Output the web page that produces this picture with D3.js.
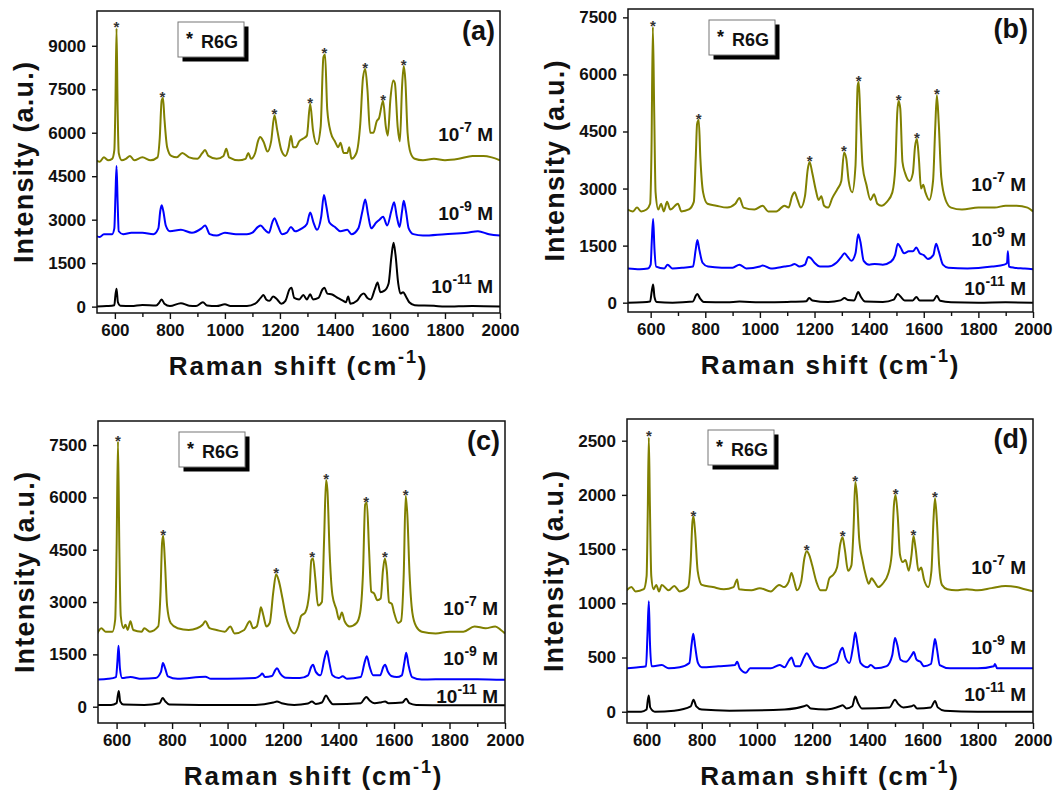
<!DOCTYPE html>
<html>
<head>
<meta charset="utf-8">
<style>
  body { margin: 0; background: #fff; }
  svg text { font-family: "Liberation Sans", Arial, sans-serif; font-weight: bold; fill: #111; }
</style>
<script src="https://cdnjs.cloudflare.com/ajax/libs/d3/7.8.5/d3.min.js"></script>
</head>
<body>
<svg id="chart"></svg>
<script>
// ---- data (Raman shift cm-1, intensity a.u.) ----
var xTicks = [600, 800, 1000, 1200, 1400, 1600, 1800, 2000];
var xMinorTicks = [700, 900, 1100, 1300, 1500, 1700, 1900];
var yTicksA = [0, 1500, 3000, 4500, 6000, 7500, 9000];
var yTicksB = [0, 1500, 3000, 4500, 6000, 7500];
var yTicksC = [0, 1500, 3000, 4500, 6000, 7500];
var yTicksD = [0, 500, 1000, 1500, 2000, 2500];
var concLabels = ['-7', '-9', '-11'];
var colors = ['#808000', '#0000ff', '#000000'];

// panel (a)
var a7 = [[530,5050],[545,5000],[560,5150],[575,5050],[590,5100],[598,5400],[602,7000],[606,9600],[610,6800],[614,5300],[625,5050],[640,5100],[655,5200],[670,5050],[700,5150],[730,5050],[755,5150],[763,5800],[770,7100],[775,7200],[780,6500],[790,5500],[805,5200],[825,5150],[845,5300],[870,5150],[900,5100],[918,5300],[928,5400],[940,5200],[970,5100],[995,5200],[1005,5450],[1015,5150],[1050,5050],[1075,5100],[1085,5300],[1095,5100],[1110,5300],[1120,5700],[1128,5850],[1140,5700],[1155,5350],[1168,5700],[1180,6600],[1190,6100],[1205,5400],[1220,5200],[1232,5500],[1240,5900],[1248,5500],[1258,5500],[1270,5700],[1285,5800],[1298,5900],[1310,7000],[1320,6100],[1335,5600],[1348,6200],[1358,8600],[1364,8700],[1372,6800],[1385,6000],[1400,5700],[1412,5500],[1420,5650],[1432,5300],[1445,5300],[1452,5500],[1460,5100],[1478,5300],[1492,6300],[1502,7900],[1510,8200],[1518,7500],[1528,6000],[1540,6000],[1552,6400],[1560,6500],[1575,7100],[1585,6200],[1592,5900],[1602,7200],[1612,7800],[1618,7700],[1628,6200],[1636,5700],[1644,7600],[1650,8300],[1656,7800],[1664,6000],[1675,5300],[1690,5100],[1720,5050],[1760,5100],[1800,5050],[1850,5100],[1900,5200],[1940,5200],[1970,5150],[2000,5050]];
var a9 = [[530,2450],[545,2400],[560,2500],[590,2500],[598,2700],[602,3800],[606,4850],[610,3600],[614,2600],[630,2500],[660,2550],[700,2550],[740,2500],[758,2700],[765,3300],[770,3500],[776,3300],[785,2800],[800,2600],[840,2650],[880,2550],[915,2700],[928,2800],[945,2500],[970,2450],[1000,2550],[1040,2500],[1080,2500],[1100,2550],[1120,2750],[1130,2800],[1145,2650],[1160,2550],[1172,2900],[1180,3050],[1192,2800],[1208,2500],[1225,2550],[1240,2750],[1255,2600],[1280,2700],[1298,2850],[1310,3250],[1322,2900],[1335,2650],[1350,3100],[1360,3850],[1368,3500],[1380,2900],[1400,2750],[1420,2600],[1445,2650],[1460,2500],[1485,2700],[1500,3300],[1510,3700],[1520,3200],[1532,2700],[1550,2900],[1562,3000],[1575,3100],[1590,2800],[1605,3300],[1615,3600],[1625,3100],[1635,2750],[1644,3300],[1650,3650],[1658,3300],[1668,2700],[1685,2500],[1720,2450],[1800,2500],[1880,2550],[1920,2600],[1960,2500],[2000,2450]];
var a11 = [[530,0],[570,20],[598,50],[602,400],[606,620],[611,150],[620,30],[660,20],[700,60],[750,40],[762,150],[770,250],[780,100],[800,20],[840,120],[870,30],[895,20],[920,150],[935,40],[970,20],[1000,80],[1020,20],[1080,20],[1110,100],[1130,300],[1140,400],[1150,250],[1162,200],[1175,350],[1190,250],[1205,100],[1220,200],[1235,600],[1242,650],[1252,300],[1270,250],[1285,400],[1298,250],[1310,430],[1320,250],[1340,300],[1355,600],[1362,650],[1372,450],[1390,420],[1410,300],[1430,200],[1440,150],[1448,350],[1456,100],[1480,200],[1495,400],[1505,450],[1518,300],[1530,250],[1545,600],[1555,830],[1565,500],[1580,550],[1595,800],[1605,1700],[1613,2200],[1620,1800],[1630,800],[1638,450],[1648,500],[1658,350],[1670,150],[1690,50],[1760,30],[1800,0],[1900,20],[2000,0]];
var starsA = [[606,9600],[773,7200],[1180,6600],[1310,7000],[1362,8700],[1510,8200],[1575,7100],[1650,8300]];
var labelYA = [5720, 3000, 480];

// panel (b)
var b7 = [[515,2450],[535,2400],[550,2500],[565,2400],[585,2450],[598,2600],[603,4000],[608,7250],[613,5000],[618,2900],[628,2450],[638,2600],[648,2400],[660,2650],[672,2450],[700,2600],[712,2400],[740,2450],[758,2650],[765,3800],[770,4700],[776,4800],[782,3800],[792,2900],[808,2600],[840,2550],[880,2500],[910,2600],[925,2750],[940,2500],[980,2450],[1010,2550],[1030,2400],[1060,2400],[1090,2550],[1105,2500],[1118,2800],[1127,2900],[1138,2700],[1150,2500],[1165,2800],[1175,3500],[1182,3700],[1192,3400],[1205,2950],[1215,2700],[1225,2800],[1235,2550],[1250,2500],[1265,2750],[1285,3000],[1298,3200],[1308,3950],[1316,3800],[1325,3200],[1338,2900],[1350,3600],[1358,5700],[1362,5800],[1368,4800],[1376,3600],[1390,3100],[1405,2700],[1418,2850],[1430,2600],[1445,2550],[1465,2650],[1485,2900],[1496,3600],[1503,5000],[1508,5300],[1514,5100],[1522,3700],[1532,3400],[1548,3200],[1560,3400],[1568,4100],[1575,4300],[1582,3800],[1590,3000],[1598,3100],[1606,2900],[1620,2700],[1634,3200],[1642,4600],[1648,5450],[1655,4700],[1664,3300],[1680,2700],[1700,2500],[1740,2450],[1800,2500],[1860,2500],[1900,2550],[1940,2550],[1980,2500],[2000,2400]];
var b9 = [[515,900],[560,880],[590,900],[600,1000],[604,1600],[609,2200],[614,1400],[620,950],[650,900],[662,1000],[680,900],[720,920],[755,950],[765,1400],[771,1650],[778,1400],[790,1050],[810,950],[860,920],[900,920],[925,1000],[950,900],[1000,950],[1010,980],[1040,900],[1090,950],[1115,980],[1127,1020],[1145,950],[1165,1000],[1177,1200],[1185,1180],[1200,1050],[1220,950],[1250,950],[1280,1050],[1298,1200],[1310,1300],[1322,1200],[1335,1100],[1350,1300],[1360,1800],[1368,1600],[1380,1100],[1400,1000],[1420,1020],[1450,1000],[1480,1080],[1495,1250],[1505,1550],[1515,1450],[1528,1300],[1545,1350],[1560,1350],[1573,1450],[1585,1300],[1600,1250],[1615,1150],[1635,1250],[1645,1550],[1655,1350],[1670,1000],[1690,920],[1760,900],[1850,950],[1895,1000],[1905,1050],[1908,1350],[1912,950],[1930,920],[1970,900],[2000,880]];
var b11 = [[515,0],[570,10],[598,30],[604,300],[609,480],[614,150],[622,20],[680,0],[755,30],[765,180],[771,230],[780,120],[795,20],[880,10],[925,30],[1000,10],[1100,20],[1170,40],[1180,120],[1192,60],[1250,20],[1295,60],[1310,120],[1322,70],[1345,60],[1360,280],[1370,150],[1385,30],[1450,20],[1490,80],[1505,230],[1515,160],[1530,60],[1560,60],[1573,150],[1585,60],[1635,60],[1648,180],[1660,50],[1700,10],[1800,0],[1900,10],[2000,0]];
var starsB = [[608,7250],[776,4800],[1182,3700],[1308,3950],[1362,5800],[1508,5300],[1575,4300],[1648,5450]];
var labelYB = [2943, 1490, 202];

// panel (c)
var c7 = [[530,2100],[545,2250],[560,2150],[585,2150],[595,2500],[600,4500],[605,7600],[610,4500],[615,2600],[625,2250],[632,2350],[640,2200],[650,2450],[660,2200],[690,2150],[700,2250],[720,2150],[750,2300],[758,3200],[764,4700],[768,4900],[774,4200],[782,2900],[795,2400],[820,2250],[860,2200],[890,2250],[910,2350],[920,2450],[935,2250],[960,2200],[990,2150],[1010,2300],[1025,2100],[1060,2200],[1080,2450],[1092,2250],[1105,2300],[1115,2650],[1120,2850],[1128,2650],[1140,2300],[1152,2400],[1165,3300],[1175,3800],[1185,3600],[1198,3100],[1210,2600],[1222,2300],[1240,2100],[1255,2300],[1265,2600],[1280,2700],[1295,3300],[1302,4200],[1308,4250],[1316,3700],[1326,2900],[1340,3000],[1348,4800],[1355,6500],[1360,6200],[1368,4400],[1378,3200],[1392,2800],[1402,2500],[1412,2700],[1422,2450],[1440,2300],[1465,2400],[1478,2700],[1488,3800],[1496,5800],[1502,5850],[1510,4500],[1518,3300],[1528,3250],[1540,3050],[1552,3100],[1560,3900],[1567,4250],[1574,3900],[1582,3000],[1592,2950],[1600,2700],[1615,2400],[1625,2450],[1635,3800],[1642,6050],[1648,5500],[1656,3800],[1666,2700],[1680,2300],[1700,2150],[1750,2100],[1800,2150],[1850,2150],[1890,2300],[1930,2250],[1965,2300],[1985,2200],[2000,2100]];
var c9 = [[530,780],[570,800],[598,850],[603,1300],[607,1750],[612,1100],[620,820],[650,850],[690,800],[740,820],[760,1000],[767,1250],[775,1100],[785,870],[820,800],[920,860],[940,800],[1000,800],[1100,820],[1118,900],[1125,950],[1135,850],[1160,880],[1172,1050],[1178,1100],[1190,950],[1210,830],[1260,820],[1290,900],[1302,1150],[1308,1200],[1318,1000],[1335,900],[1350,1400],[1358,1600],[1366,1300],[1378,900],[1400,820],[1415,870],[1430,800],[1480,850],[1495,1300],[1502,1450],[1512,1150],[1525,900],[1550,900],[1562,1150],[1568,1200],[1578,1000],[1590,880],[1610,850],[1628,900],[1638,1300],[1644,1550],[1652,1200],[1665,850],[1700,780],[1800,790],[1900,790],[2000,770]];
var c11 = [[530,50],[580,50],[600,100],[604,300],[608,450],[613,150],[625,60],[700,50],[755,100],[766,250],[776,150],[790,60],[900,50],[1100,50],[1165,120],[1178,150],[1195,100],[1240,50],[1290,90],[1304,150],[1318,80],[1340,120],[1355,320],[1365,200],[1380,70],[1480,100],[1500,280],[1512,180],[1530,100],[1555,130],[1568,150],[1580,100],[1630,120],[1644,230],[1655,100],[1680,50],[1800,40],[2000,40]];
var starsC = [[605,7600],[768,4900],[1175,3800],[1305,4250],[1355,6500],[1500,5850],[1567,4250],[1642,6050]];
var labelYC = [2628, 1195, 97];

// panel (d)
var d7 = [[528,1120],[545,1150],[560,1110],[590,1130],[600,1250],[604,1800],[608,2530],[612,1900],[617,1250],[625,1130],[635,1170],[645,1110],[655,1170],[680,1120],[700,1160],[720,1110],[750,1150],[760,1400],[766,1750],[770,1800],[776,1650],[785,1300],[800,1170],[840,1150],[880,1130],[915,1150],[928,1220],[935,1130],[980,1120],[1010,1140],[1050,1110],[1080,1170],[1098,1150],[1115,1200],[1125,1280],[1135,1200],[1145,1120],[1160,1200],[1172,1420],[1180,1480],[1190,1440],[1200,1350],[1215,1200],[1230,1120],[1250,1120],[1262,1230],[1275,1260],[1290,1330],[1302,1550],[1310,1610],[1318,1500],[1330,1300],[1342,1350],[1350,1700],[1356,2120],[1362,2000],[1370,1600],[1382,1400],[1395,1250],[1405,1180],[1415,1230],[1425,1200],[1440,1150],[1455,1180],[1475,1270],[1488,1450],[1496,1900],[1502,2000],[1510,1800],[1518,1450],[1528,1380],[1538,1400],[1550,1300],[1560,1450],[1567,1620],[1575,1500],[1585,1300],[1595,1330],[1605,1220],[1620,1150],[1632,1300],[1640,1800],[1645,1970],[1652,1750],[1660,1350],[1670,1170],[1690,1130],[1720,1120],[1760,1130],[1800,1120],[1850,1140],[1900,1160],[1940,1150],[1970,1130],[2000,1110]];
var d9 = [[528,400],[570,410],[598,420],[603,700],[608,1020],[612,650],[618,420],[655,430],[680,400],[720,410],[755,450],[763,620],[769,720],[776,600],[786,450],[800,410],[860,420],[920,430],[928,460],[938,400],[960,360],[975,400],[1050,400],[1082,430],[1100,410],[1115,470],[1125,500],[1138,420],[1155,420],[1170,500],[1180,540],[1195,480],[1210,420],[1240,400],[1270,430],[1290,460],[1302,560],[1310,590],[1320,500],[1335,450],[1348,600],[1356,730],[1364,620],[1375,450],[1400,410],[1412,430],[1430,400],[1470,420],[1490,520],[1500,680],[1508,620],[1520,480],[1540,460],[1560,520],[1568,550],[1578,480],[1592,460],[1605,420],[1630,440],[1640,600],[1645,670],[1652,580],[1662,430],[1700,400],[1800,400],[1858,420],[1862,440],[1870,400],[1950,400],[2000,400]];
var d11 = [[528,0],[580,0],[600,20],[604,100],[608,150],[613,40],[630,0],[700,10],[760,50],[770,110],[780,50],[800,20],[900,10],[1100,20],[1170,50],[1180,60],[1195,30],[1250,20],[1300,50],[1310,60],[1325,30],[1345,50],[1356,140],[1366,80],[1380,30],[1480,40],[1500,110],[1512,70],[1530,40],[1560,50],[1568,60],[1580,30],[1630,40],[1645,100],[1655,40],[1680,10],[1800,0],[2000,0]];
var starsD = [[608,2530],[770,1800],[1180,1480],[1310,1610],[1356,2120],[1502,2000],[1567,1620],[1645,1970]];
var labelYD = [1268, 530, 99];

// ---- layout (pixel frames of the four panels) ----
var panels = [
    { tag: '(a)', left: 97, top: 11, right: 500, bottom: 313, xd: [535, 2000], yd: [-220, 10200], yTicks: yTicksA, series: [a7, a9, a11], stars: starsA, labelY: labelYA, titleDx: 0 },
    { tag: '(b)', left: 628, top: 9, right: 1033, bottom: 312, xd: [517, 2000], yd: [-245, 7720], yTicks: yTicksB, series: [b7, b9, b11], stars: starsB, labelY: labelYB, titleDx: 0 },
    { tag: '(c)', left: 98, top: 421, right: 505, bottom: 723, xd: [533, 2000], yd: [-467, 8190], yTicks: yTicksC, series: [c7, c9, c11], stars: starsC, labelY: labelYC, titleDx: 12 },
    { tag: '(d)', left: 627, top: 419, right: 1033, bottom: 723, xd: [529, 2000], yd: [-104, 2700], yTicks: yTicksD, series: [d7, d9, d11], stars: starsD, labelY: labelYD, titleDx: 0 }
];

var svg = d3.select('#chart').attr('width', 1059).attr('height', 791);
var fmt = d3.format('d');

panels.forEach(function (p, i) {
    var x = d3.scaleLinear().domain(p.xd).range([p.left, p.right]);
    var y = d3.scaleLinear().domain(p.yd).range([p.bottom, p.top]);
    var g = svg.append('g');

    // clip
    var clipId = 'clip' + i;
    svg.append('clipPath').attr('id', clipId)
        .append('rect')
        .attr('x', p.left).attr('y', p.top)
        .attr('width', p.right - p.left).attr('height', p.bottom - p.top);

    // axes
    var yAxis = d3.axisLeft(y).tickValues(p.yTicks).tickFormat(fmt).tickSize(5).tickPadding(6);
    var xAxis = d3.axisBottom(x).tickValues(xTicks).tickFormat(fmt).tickSize(6).tickPadding(5);
    var xMinor = d3.axisBottom(x).tickValues(xMinorTicks).tickSize(4).tickFormat('');

    var gy = g.append('g').attr('transform', 'translate(' + p.left + ',0)').call(yAxis);
    var gx = g.append('g').attr('transform', 'translate(0,' + p.bottom + ')').call(xAxis);
    var gm = g.append('g').attr('transform', 'translate(0,' + p.bottom + ')').call(xMinor);
    [gy, gx, gm].forEach(function (a) {
        a.select('.domain').remove();
        a.selectAll('line').attr('stroke', '#111').attr('stroke-width', 1.4);
        a.selectAll('text').attr('font-size', 17).attr('fill', '#111')
            .attr('font-family', '"Liberation Sans", Arial, sans-serif').attr('font-weight', 'bold');
    });

    // spectra
    var line = d3.line()
        .x(function (d) { return x(d[0]); })
        .y(function (d) { return y(d[1]); })
        .curve(d3.curveMonotoneX);

    var lines = g.append('g').attr('clip-path', 'url(#' + clipId + ')');
    p.series.forEach(function (s, k) {
        lines.append('path')
            .datum(s)
            .attr('d', line)
            .attr('fill', 'none')
            .attr('stroke', colors[k])
            .attr('stroke-width', 2)
            .attr('stroke-linejoin', 'round');
    });

    // frame
    g.append('rect')
        .attr('x', p.left).attr('y', p.top)
        .attr('width', p.right - p.left).attr('height', p.bottom - p.top)
        .attr('fill', 'none').attr('stroke', '#111').attr('stroke-width', 1.5);

    // peak markers
    g.selectAll('.star')
        .data(p.stars)
        .enter().append('text')
        .attr('class', 'star')
        .attr('x', function (d) { return x(d[0]); })
        .attr('y', function (d) { return y(d[1]) + 4; })
        .attr('text-anchor', 'middle')
        .attr('font-size', 15)
        .style('fill', '#333')
        .text('*');

    // concentration labels
    p.labelY.forEach(function (v, k) {
        var t = g.append('text')
            .attr('x', p.right - 7)
            .attr('y', y(v))
            .attr('text-anchor', 'end')
            .attr('font-size', 19);
        t.append('tspan').text('10');
        t.append('tspan').attr('font-size', 14).attr('dy', -9).text(concLabels[k]);
        t.append('tspan').attr('dy', 9).text('\u00a0M');
    });

    // legend box
    var lg = g.append('g').attr('transform', 'translate(' + (p.left + 81) + ',' + (p.top + 11) + ')');
    lg.append('rect').attr('x', 4.5).attr('y', 4.5).attr('width', 66).attr('height', 35).attr('fill', '#000');
    lg.append('rect').attr('x', 0).attr('y', 0).attr('width', 66).attr('height', 35)
        .attr('fill', '#fff').attr('stroke', '#777').attr('stroke-width', 1);
    lg.append('text').attr('x', 8).attr('y', 23).attr('font-size', 18).text('*');
    lg.append('text').attr('x', 23).attr('y', 26).attr('font-size', 18).text('R6G');

    // panel tag
    g.append('text')
        .attr('x', p.right - 5)
        .attr('y', p.top + 29)
        .attr('text-anchor', 'end')
        .attr('font-size', 27)
        .text(p.tag);

    // axis titles
    var xt = g.append('text')
        .attr('x', (p.left + p.right) / 2 + p.titleDx)
        .attr('y', p.bottom + 62)
        .attr('text-anchor', 'middle')
        .attr('font-size', 26)
        .style('letter-spacing', '1.8px');
    xt.append('tspan').text('Raman shift (cm');
    xt.append('tspan').attr('font-size', 18).attr('dy', -12).text('-1');
    xt.append('tspan').attr('dy', 12).text(')');

    g.append('text')
        .attr('transform', 'translate(' + (p.left - 64) + ',' + ((p.top + p.bottom) / 2) + ') rotate(-90)')
        .attr('text-anchor', 'middle')
        .attr('font-size', 27)
        .style('letter-spacing', '1.2px')
        .text('Intensity (a.u.)');
});
</script>
</body>
</html>
